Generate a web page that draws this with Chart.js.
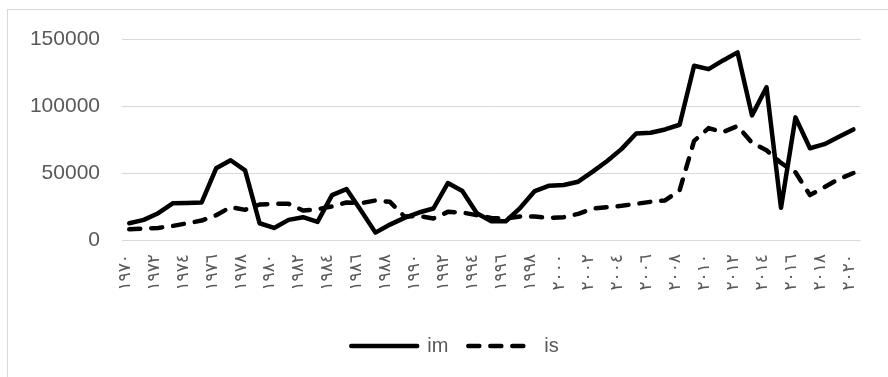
<!DOCTYPE html>
<html>
<head>
<meta charset="utf-8">
<script src="https://cdn.jsdelivr.net/npm/chart.js@4"></script>
<style>
  html, body { margin: 0; padding: 0; background: #fff; overflow: hidden; }
  .frame {
    position: absolute; left: 7px; top: 9px; width: 1000px; height: 500px;
    border-left: 1px solid #d9d9d9; border-top: 1px solid #d9d9d9;
  }
  .wrap { position: absolute; left: 0; top: 0; width: 888px; height: 377px; }
</style>
</head>
<body>
<div class="frame"></div>
<div class="wrap"><canvas id="chart" width="888" height="377"></canvas></div>
<script>
const years = [
  "١٩٧٠", "١٩٧١", "١٩٧٢", "١٩٧٣", "١٩٧٤", "١٩٧٥", "١٩٧٦", "١٩٧٧", "١٩٧٨", "١٩٧٩",
  "١٩٨٠", "١٩٨١", "١٩٨٢", "١٩٨٣", "١٩٨٤", "١٩٨٥", "١٩٨٦", "١٩٨٧", "١٩٨٨", "١٩٨٩",
  "١٩٩٠", "١٩٩١", "١٩٩٢", "١٩٩٣", "١٩٩٤", "١٩٩٥", "١٩٩٦", "١٩٩٧", "١٩٩٨", "١٩٩٩",
  "٢٠٠٠", "٢٠٠١", "٢٠٠٢", "٢٠٠٣", "٢٠٠٤", "٢٠٠٥", "٢٠٠٦", "٢٠٠٧", "٢٠٠٨", "٢٠٠٩",
  "٢٠١٠", "٢٠١١", "٢٠١٢", "٢٠١٣", "٢٠١٤", "٢٠١٥", "٢٠١٦", "٢٠١٧", "٢٠١٨", "٢٠١٩",
  "٢٠٢٠"
];

const im = [
  12500, 15000, 20000, 27400, 27600, 28000, 53500, 59500, 52000, 12500,
  9000, 15000, 17000, 13500, 33500, 38000, 22000, 5500, 11500, 16500,
  20500, 23500, 42500, 36500, 20000, 14000, 14000, 24000, 36500, 40500,
  41000, 43500, 51000, 59000, 68000, 79500, 80000, 82500, 86000, 130000,
  127500, 134000, 140000, 93000, 114000, 24000, 91500, 68500, 71500, 77000,
  82500
];

const is = [
  8000, 8500, 9000, 10500, 12500, 14500, 18500, 24500, 22500, 26500,
  27000, 27000, 22000, 23000, 25000, 28000, 27500, 29500, 28500, 17500,
  18000, 16000, 21000, 20500, 18500, 16500, 16000, 17500, 17500, 16500,
  17000, 19500, 23500, 24500, 25500, 27000, 28500, 29500, 37000, 74000,
  83500, 80500, 85000, 72500, 67000, 57500, 50500, 33500, 39500, 45500,
  50000
];

const yMax = 150000;
const yStep = 50000;

const grey = "#595959";

// nudge the legend row a little to the right of the canvas centre
const legendShift = {
  id: "legendShift",
  afterLayout(chart) {
    const legend = chart.legend;
    if (!legend) return;
    legend.left += 11;
    legend.right += 11;
  },
};

new Chart(document.getElementById("chart"), {
  type: "line",
  data: {
    labels: years,
    datasets: [
      {
        label: "im",
        data: im,
        borderColor: "#000",
        borderWidth: 4.5,
        borderJoinStyle: "round",
        borderCapStyle: "round",
        pointRadius: 0,
        tension: 0,
      },
      {
        label: "is",
        data: is,
        borderColor: "#000",
        borderWidth: 4.5,
        borderDash: [11, 11],
        borderJoinStyle: "round",
        borderCapStyle: "round",
        pointRadius: 0,
        tension: 0,
      },
    ],
  },
  plugins: [legendShift],
  options: {
    responsive: false,
    animation: false,
    layout: {
      padding: { left: 20, right: 20, top: 39, bottom: 11 },
    },
    plugins: {
      tooltip: { enabled: false },
      legend: {
        position: "bottom",
        labels: {
          usePointStyle: true,
          pointStyle: "line",
          pointStyleWidth: 66,
          color: grey,
          padding: 20,
          font: { family: "Liberation Sans", size: 20 },
          // keep the dataset dash pattern on the legend line
          generateLabels: (chart) =>
            Chart.defaults.plugins.legend.labels.generateLabels(chart).map((item) => {
              const ds = chart.data.datasets[item.datasetIndex];
              return { ...item, lineDash: ds.borderDash || [], lineCap: "round", lineWidth: 4.5 };
            }),
        },
      },
    },
    scales: {
      x: {
        offset: true,
        grid: { display: false, drawTicks: false },
        border: { display: false },
        afterFit: (scale) => { scale.height = 76; },
        ticks: {
          autoSkip: false,
          minRotation: 90,
          maxRotation: 90,
          padding: 14,
          labelOffset: -4,
          color: grey,
          font: { family: "DejaVu Sans", size: 17 },
          // every second year gets a label
          callback: (value, index) => (index % 2 === 0 ? years[index] : ""),
        },
      },
      y: {
        min: 0,
        max: yMax,
        grid: { color: "#d9d9d9", lineWidth: 1, drawTicks: false },
        border: { display: false },
        afterFit: (scale) => { scale.width = 102; },
        ticks: {
          stepSize: yStep,
          padding: 22,
          color: grey,
          font: { family: "Liberation Sans", size: 21 },
          callback: (value) => String(value),
        },
      },
    },
  },
});
</script>
</body>
</html>
